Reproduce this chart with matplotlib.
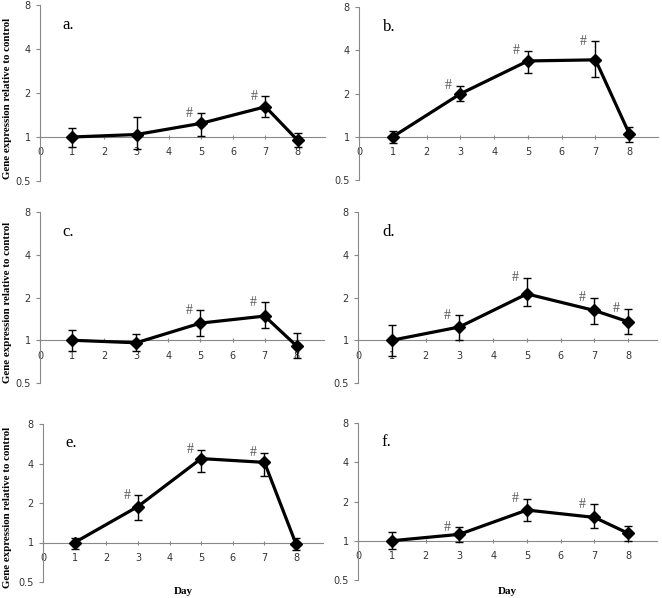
import numpy as np
import matplotlib
matplotlib.use("Agg")
import matplotlib.pyplot as plt

# --------------------------------
# Data
# --------------------------------
days = [1, 3, 5, 7, 8]
panel_labels = ["a.", "b.", "c.", "d.", "e.", "f."]

mean_a = [1.00, 1.04, 1.24, 1.61, 0.95]
upper_a = [1.16, 1.36, 1.45, 1.90, 1.06]
lower_a = [0.85, 0.83, 1.02, 1.37, 0.85]
hash_a = [5, 7]

mean_b = [1.00, 1.99, 3.37, 3.43, 1.05]
upper_b = [1.10, 2.26, 3.98, 4.62, 1.17]
lower_b = [0.91, 1.76, 2.76, 2.59, 0.92]
hash_b = [3, 5, 7]

mean_c = [1.00, 0.96, 1.32, 1.48, 0.91]
upper_c = [1.19, 1.11, 1.63, 1.85, 1.13]
lower_c = [0.84, 0.84, 1.07, 1.21, 0.75]
hash_c = [5, 7]

mean_d = [1.00, 1.24, 2.12, 1.62, 1.35]
upper_d = [1.28, 1.50, 2.75, 2.00, 1.66]
lower_d = [0.78, 1.00, 1.73, 1.30, 1.10]
hash_d = [3, 5, 7, 8]

mean_e = [1.00, 1.88, 4.36, 4.08, 0.97]
upper_e = [1.09, 2.29, 5.08, 4.85, 1.09]
lower_e = [0.89, 1.49, 3.43, 3.19, 0.88]
hash_e = [3, 5, 7]

mean_f = [1.00, 1.12, 1.72, 1.51, 1.14]
upper_f = [1.16, 1.27, 2.10, 1.90, 1.29]
lower_f = [0.86, 0.97, 1.42, 1.25, 1.00]
hash_f = [3, 5, 7]

means = [mean_a, mean_b, mean_c, mean_d, mean_e, mean_f]
uppers = [upper_a, upper_b, upper_c, upper_d, upper_e, upper_f]
lowers = [lower_a, lower_b, lower_c, lower_d, lower_e, lower_f]
hashes = [hash_a, hash_b, hash_c, hash_d, hash_e, hash_f]

y_ticks = [0.5, 1, 2, 4, 8]
x_ticks = [0, 1, 2, 3, 4, 5, 6, 7, 8]

# --------------------------------
# Layout (pixel boxes -> figure fractions)
# --------------------------------
W, H = 662, 598
# left, right, top, bottom in pixels
boxes = [
    (40, 325, 5, 181),
    (359, 658, 7, 180),
    (40, 324, 212, 383),
    (358, 657, 212, 383),
    (43, 323, 424, 582),
    (358, 657, 423, 580),
]

fig = plt.figure(figsize=(W / 100, H / 100), dpi=100)
grey = "#888888"

for i in range(6):
    l, r, t, b = boxes[i]
    ax = fig.add_axes([l / W, 1 - b / H, (r - l) / W, (b - t) / H])

    m = np.array(means[i])
    up = np.array(uppers[i]) - m
    lo = m - np.array(lowers[i])

    ax.errorbar(days, m, yerr=[lo, up], color="black", lw=2.3,
                marker="D", markersize=6, elinewidth=1, capsize=3,
                capthick=1, zorder=3)

    for d in hashes[i]:
        k = days.index(d)
        ax.text(d - 0.35, uppers[i][k], "#", family="Liberation Serif",
                fontsize=10, color="#555555", ha="center", va="center")

    ax.set_yscale("log", base=2)
    ax.set_ylim(0.5, 8)
    ax.set_xlim(0, 8.85)
    ax.set_yticks(y_ticks)
    ax.set_yticklabels(["0.5", "1", "2", "4", "8"])
    ax.minorticks_off()
    ax.set_xticks(x_ticks)

    ax.spines["top"].set_visible(False)
    ax.spines["right"].set_visible(False)
    ax.spines["left"].set_color(grey)
    ax.spines["bottom"].set_color(grey)
    ax.spines["bottom"].set_position(("data", 1))
    ax.tick_params(axis="y", colors=grey, labelcolor="#333333",
                   labelsize=7, length=3, width=0.8)
    ax.tick_params(axis="x", colors=grey, labelcolor="#333333",
                   labelsize=7, length=3, width=0.8, direction="inout",
                   pad=6)

    ax.text(0.08, 0.93, panel_labels[i], transform=ax.transAxes,
            family="Liberation Serif", fontsize=12, va="top")

    if i % 2 == 0:
        ax.set_ylabel("Gene expression relative to control",
                      family="Liberation Serif", fontweight="bold",
                      fontsize=7.8)
        ax.yaxis.set_label_coords((12 - l) / (r - l), 0.47)
    if i >= 4:
        fig.text((l + r) / 2 / W, 1 - 591 / H, "Day",
                 family="Liberation Serif", fontweight="bold",
                 fontsize=8, ha="center", va="center")

fig.savefig("out.png", dpi=100)
